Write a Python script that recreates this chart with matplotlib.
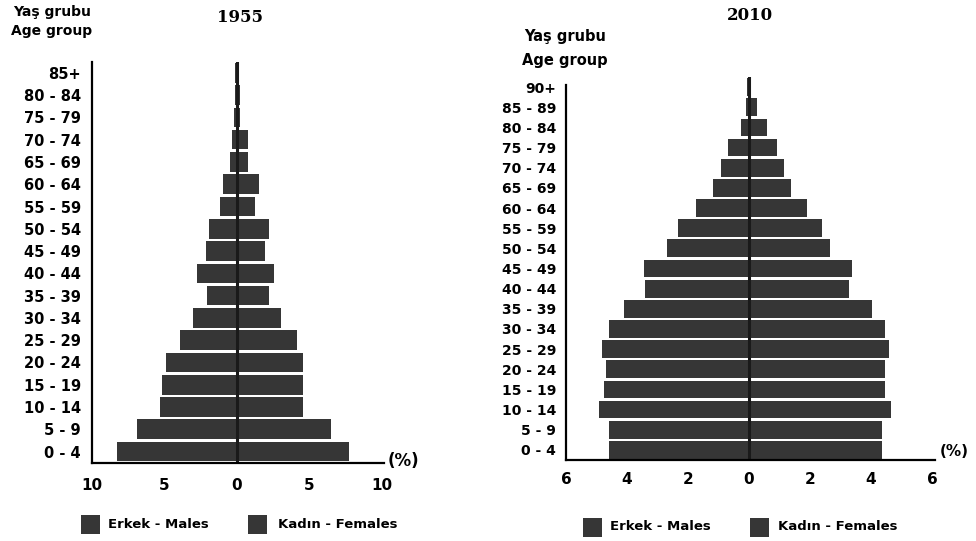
import matplotlib
matplotlib.use("Agg")
import matplotlib.pyplot as plt
from matplotlib.patches import Rectangle
import numpy as np

# ---------------- data ----------------
ages_1955 = ['0 - 4', '5 - 9', '10 - 14', '15 - 19', '20 - 24', '25 - 29', '30 - 34',
             '35 - 39', '40 - 44', '45 - 49', '50 - 54', '55 - 59', '60 - 64',
             '65 - 69', '70 - 74', '75 - 79', '80 - 84', '85+']
males_1955 = [8.25, 6.87, 5.3, 5.15, 4.9, 3.94, 3.0, 2.06, 2.72, 2.1, 1.92, 1.19,
              0.96, 0.5, 0.35, 0.2, 0.15, 0.1]
females_1955 = [7.75, 6.5, 4.55, 4.55, 4.55, 4.13, 3.05, 2.2, 2.57, 1.95, 2.2, 1.26,
                1.56, 0.76, 0.76, 0.2, 0.2, 0.15]

ages_2010 = ['0 - 4', '5 - 9', '10 - 14', '15 - 19', '20 - 24', '25 - 29', '30 - 34',
             '35 - 39', '40 - 44', '45 - 49', '50 - 54', '55 - 59', '60 - 64',
             '65 - 69', '70 - 74', '75 - 79', '80 - 84', '85 - 89', '90+']
males_2010 = [4.6, 4.6, 4.93, 4.77, 4.7, 4.82, 4.6, 4.09, 3.40, 3.43, 2.7, 2.33,
              1.73, 1.19, 0.91, 0.69, 0.27, 0.1, 0.05]
females_2010 = [4.37, 4.37, 4.64, 4.46, 4.46, 4.58, 4.46, 4.04, 3.27, 3.39, 2.66, 2.38,
                1.9, 1.39, 1.15, 0.91, 0.6, 0.25, 0.08]

ticks_1955 = [-10, -5, 0, 5, 10]
ticks_2010 = [-6, -4, -2, 0, 2, 4, 6]

BAR = '#363636'
W, H = 976, 541

fig = plt.figure(figsize=(9.76, 5.41), dpi=100)
fig.patch.set_facecolor('white')


def fx(px):
    return px / W


def fy(py):
    return 1 - py / H


def pyramid(rect, ages, males, females, xticks, xlim, ylab_fs, tickpad_x, tickpad_y, spine_top):
    ax = fig.add_axes(rect)
    y = np.arange(len(ages))
    ax.barh(y, -np.array(males), height=0.88, color=BAR, edgecolor='none')
    ax.barh(y, females, height=0.88, color=BAR, edgecolor='none')
    ax.plot([0, 0], [-0.5, len(ages) - 0.5], color='#1a1a1a', lw=2.2)
    ax.set_xlim(*xlim)
    ax.set_ylim(-0.5, len(ages) - 0.5)
    ax.set_yticks(y)
    ax.set_yticklabels(ages, fontsize=ylab_fs, fontweight='bold')
    ax.set_xticks(xticks)
    ax.set_xticklabels([str(abs(t)) for t in xticks], fontsize=11, fontweight='bold')
    ax.tick_params(axis='x', length=0, pad=tickpad_x)
    ax.tick_params(axis='y', length=0, pad=tickpad_y)
    for s in ['top', 'right']:
        ax.spines[s].set_visible(False)
    ax.spines['left'].set_linewidth(1.6)
    ax.spines['bottom'].set_linewidth(1.6)
    ax.spines['left'].set_bounds(-0.5, spine_top)
    ax.set_facecolor('white')
    return ax


# left pyramid (1955)
ax1 = pyramid([fx(92), fy(462.7), fx(383) - fx(92), fy(61.7) - fy(462.7)],
              ages_1955, males_1955, females_1955, ticks_1955, (-10, 10.1),
              10.5, 11, 8, 17.5)
ax1.spines['bottom'].set_bounds(-10, 10.2)
fig.text(fx(240), fy(18), '1955', ha='center', va='center', fontsize=12,
         fontweight='bold', family='DejaVu Serif')
fig.text(fx(52), fy(12), 'Yaş grubu', ha='center', va='center', fontsize=10, fontweight='bold')
fig.text(fx(52), fy(31), 'Age group', ha='center', va='center', fontsize=10, fontweight='bold')
fig.text(fx(388), fy(461), '(%)', ha='left', va='center', fontsize=12, fontweight='bold')

# right pyramid (2010)
ax2 = pyramid([fx(566), fy(460), fx(932) - fx(566), fy(77) - fy(460)],
              ages_2010, males_2010, females_2010, ticks_2010, (-6, 6),
              10, 9, 7, 18.1)
ax2.spines['bottom'].set_bounds(-6, 6.1)
fig.text(fx(750), fy(15), '2010', ha='center', va='center', fontsize=12,
         fontweight='bold', family='DejaVu Serif')
fig.text(fx(565), fy(37), 'Yaş grubu', ha='center', va='center', fontsize=10.5, fontweight='bold')
fig.text(fx(565), fy(60), 'Age group', ha='center', va='center', fontsize=10.5, fontweight='bold')
fig.text(fx(940), fy(452), '(%)', ha='left', va='center', fontsize=11, fontweight='bold')

# legends
def legend_item(x_sq, y_c, size, x_txt, label, fs):
    fig.patches.append(Rectangle((fx(x_sq), fy(y_c + size / 2)), size / W, size / H,
                                 transform=fig.transFigure, facecolor=BAR,
                                 edgecolor='none'))
    fig.text(fx(x_txt), fy(y_c), label, ha='left', va='center', fontsize=fs, fontweight='bold')


legend_item(81, 524, 19, 108, 'Erkek - Males', 9.5)
legend_item(248, 524, 19, 278, 'Kadın - Females', 9.5)
legend_item(583, 527, 19, 610, 'Erkek - Males', 9.5)
legend_item(750, 527, 19, 778, 'Kadın - Females', 9.5)

fig.savefig('out.png', dpi=100, facecolor='white')
